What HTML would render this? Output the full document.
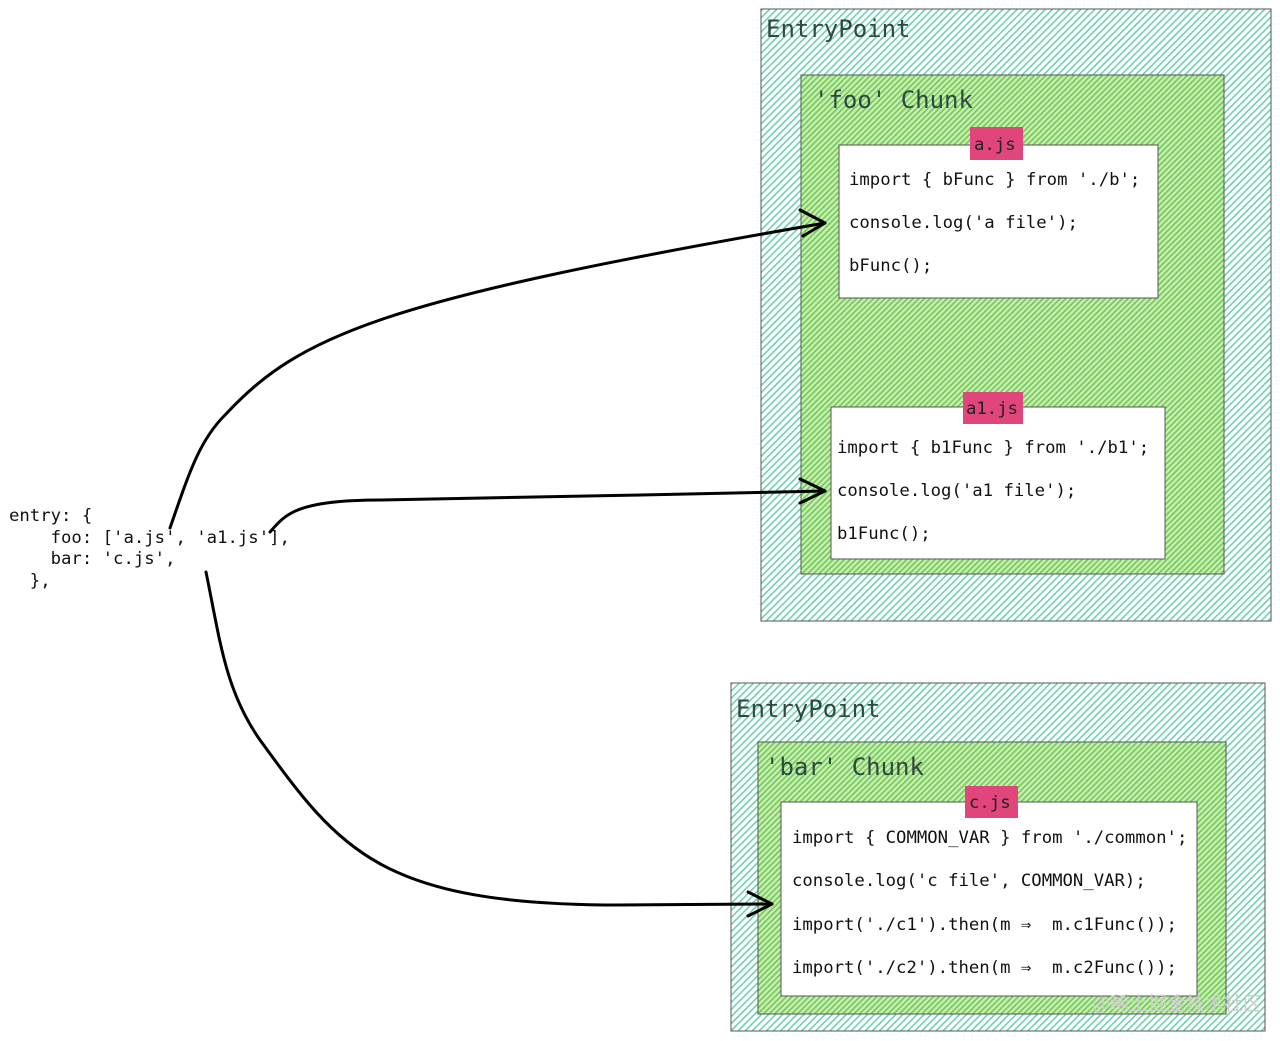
<!DOCTYPE html>
<html><head><meta charset="utf-8"><style>
html,body{margin:0;padding:0;background:#fff;}
svg{display:block;}
text{font-family:"DejaVu Sans Mono","Liberation Mono",monospace;}
</style></head><body>
<svg width="1280" height="1041" viewBox="0 0 1280 1041" xmlns="http://www.w3.org/2000/svg">
<defs>
<pattern id="po" width="5" height="5" patternUnits="userSpaceOnUse" patternTransform="rotate(45)">
<rect width="5" height="5" fill="#ffffff"/><rect width="1.6" height="5" fill="#6fcfb3"/>
</pattern>
<pattern id="pi" width="4" height="4" patternUnits="userSpaceOnUse" patternTransform="rotate(45)">
<rect width="4" height="4" fill="#c9eeb0"/><rect width="1.6" height="4" fill="#6fc95a"/>
</pattern>
</defs>

<rect x="761" y="9" width="510" height="612" fill="url(#po)" stroke="#555" stroke-width="1"/>
<text x="766" y="37" font-size="24" fill="#2d4a40">EntryPoint</text>
<rect x="801" y="75" width="423" height="499" fill="url(#pi)" stroke="#555" stroke-width="1"/>
<text x="814" y="108" font-size="24" fill="#2d4a40">'foo' Chunk</text>

<rect x="839" y="145" width="319" height="153" fill="#fff" stroke="#555"/>
<rect x="970" y="127" width="53" height="33" fill="#e0457b"/>
<text x="974" y="150" font-size="17.3" fill="#222">a.js</text>
<text x="849" y="185" font-size="17.3" fill="#111">import { bFunc } from './b';</text>
<text x="849" y="228" font-size="17.3" fill="#111">console.log('a file');</text>
<text x="849" y="271" font-size="17.3" fill="#111">bFunc();</text>

<rect x="831" y="407" width="334" height="152" fill="#fff" stroke="#555"/>
<rect x="963" y="392" width="60" height="32" fill="#e0457b"/>
<text x="966" y="414" font-size="17.3" fill="#222">a1.js</text>
<text x="837" y="453" font-size="17.3" fill="#111">import { b1Func } from './b1';</text>
<text x="837" y="496" font-size="17.3" fill="#111">console.log('a1 file');</text>
<text x="837" y="539" font-size="17.3" fill="#111">b1Func();</text>

<rect x="731" y="683" width="534" height="348" fill="url(#po)" stroke="#555" stroke-width="1"/>
<text x="736" y="717" font-size="24" fill="#2d4a40">EntryPoint</text>
<rect x="758" y="742" width="468" height="272" fill="url(#pi)" stroke="#555" stroke-width="1"/>
<text x="765" y="775" font-size="24" fill="#2d4a40">'bar' Chunk</text>

<rect x="781" y="802" width="416" height="194" fill="#fff" stroke="#555"/>
<rect x="965" y="786" width="53" height="32" fill="#e0457b"/>
<text x="969" y="808" font-size="17.3" fill="#222">c.js</text>
<text x="792" y="843" font-size="17.3" fill="#111">import { COMMON_VAR } from './common';</text>
<text x="792" y="886" font-size="17.3" fill="#111">console.log('c file', COMMON_VAR);</text>
<text x="792" y="930" font-size="17.3" fill="#111" xml:space="preserve">import('./c1').then(m ⇒  m.c1Func());</text>
<text x="792" y="973" font-size="17.3" fill="#111" xml:space="preserve">import('./c2').then(m ⇒  m.c2Func());</text>
<text x="1092" y="1010" font-size="19" fill="#ccc" style="font-family:'Noto Sans CJK SC',sans-serif">@稀土掘金技术社区</text>

<g font-size="17.3" fill="#111">
<text x="9" y="521">entry: {</text>
<text x="9" y="543" xml:space="preserve">    foo: ['a.js', 'a1.js'],</text>
<text x="9" y="564" xml:space="preserve">    bar: 'c.js',</text>
<text x="9" y="586" xml:space="preserve">  },</text>
</g>

<g fill="none" stroke="#000" stroke-width="3" stroke-linecap="round" stroke-linejoin="round">
<path d="M170 528 C190 470 200 440 225 415 C300 335 380 300 825 223"/>
<path d="M800 210 L825 223 L803 236"/>
<path d="M270 532 C285 515 295 500 380 500 C520 498 680 494 825 491"/>
<path d="M800 479 L825 491 L800 503"/>
<path d="M206 572 C220 640 225 690 260 740 C340 850 380 905 620 905 L772 904"/>
<path d="M748 892 L772 904 L748 916"/>
</g>
</svg>
</body></html>
